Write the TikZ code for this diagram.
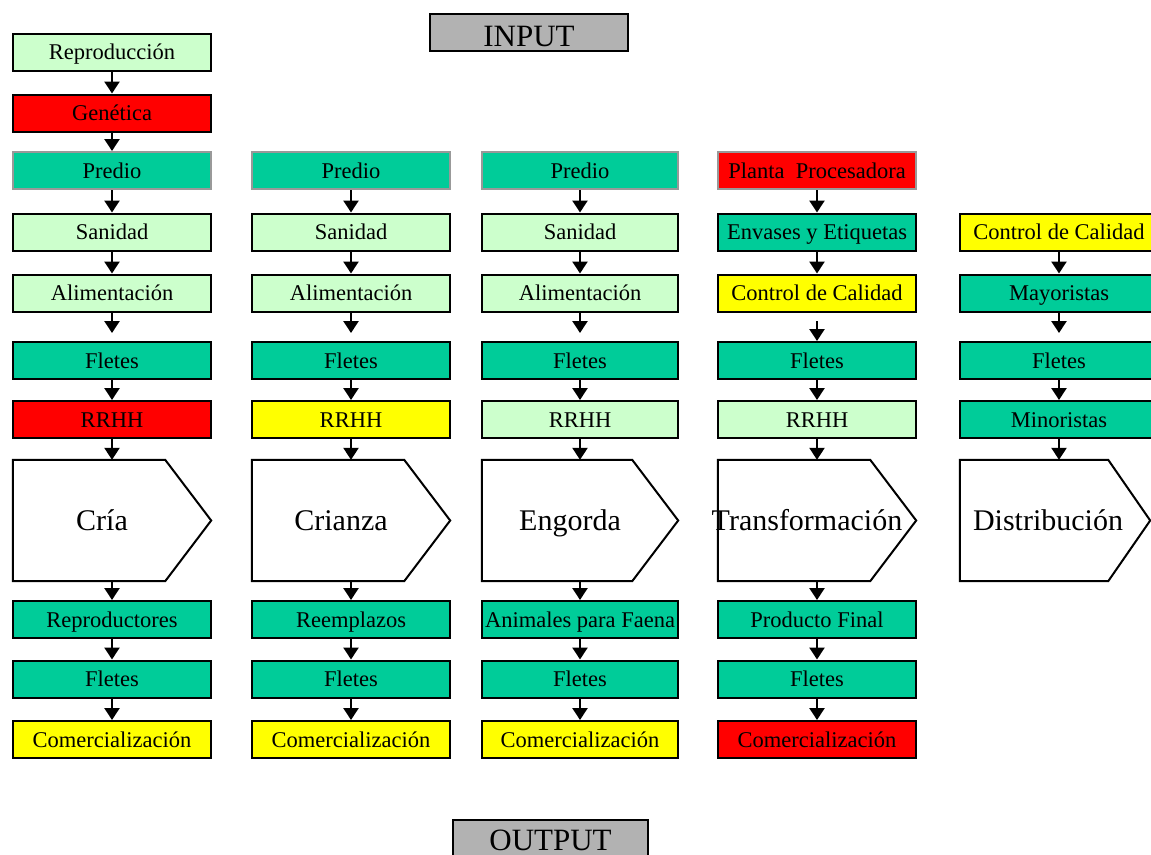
\documentclass[tikz,border=0pt]{standalone}
\usepackage{fontspec}
\setmainfont{Liberation Serif}
\usetikzlibrary{arrows.meta,calc}
\definecolor{lightg}{HTML}{CCFFCC}
\definecolor{tealg}{HTML}{00CC99}
\definecolor{redb}{HTML}{FF0000}
\definecolor{yelb}{HTML}{FFFF00}
\definecolor{grayb}{HTML}{B2B2B2}
\tikzset{
  box/.style={draw=black, line width=2pt, minimum width=198pt, minimum height=37pt, inner sep=0pt, text height=17.5pt, text depth=2.5pt, font=\fontsize{22.5}{24}\selectfont},
  lg/.style={box, fill=lightg},
  tl/.style={box, fill=tealg},
  rd/.style={box, fill=redb},
  yl/.style={box, fill=yelb},
  gb/.style={draw=black!40},
  narrow/.style={minimum width=196pt},
  io/.style={box, fill=grayb, text height=28pt, text depth=0pt, font=\fontsize{31}{33}\selectfont},
  pent/.style={minimum width=198pt, minimum height=121pt, inner sep=0pt},
  pentlabel/.style={font=\fontsize{30}{32}\selectfont, inner sep=0pt, text height=22pt, text depth=3pt},
  pentline/.style={draw=black, line width=2pt, fill=white, line join=miter},
  arr/.style={-{Triangle[width=15pt,length=12pt]}, line width=2.5pt},
}
\begin{document}
\begin{tikzpicture}[x=1pt,y=-1pt]
\clip (0,0) rectangle (1151,854);
\fill[white] (0,0) rectangle (1151,854);

% INPUT / OUTPUT
\node[io, minimum width=198pt] (input) at (529,32) {INPUT};
\node[io, minimum width=195pt, text height=24pt] (output) at (550.5,838.5) {OUTPUT};

% Column 1
\node[lg] (a1) at (112,52) {Reproducción};
\node[rd] (a2) at (112,113) {Genética};
\node[tl,gb] (a3) at (112,170.5) {Predio};
\node[lg] (a4) at (112,232) {Sanidad};
\node[lg] (a5) at (112,293) {Alimentación};
\node[tl] (a6) at (112,360.5) {Fletes};
\node[rd] (a7) at (112,419.5) {RRHH};
\node[pent] (pa) at (112,520.5) {};
\node[tl] (a8) at (112,619.5) {Reproductores};
\node[tl] (a9) at (112,679) {Fletes};
\node[yl] (a10) at (112,739.5) {Comercialización};

% Column 2
\node[tl,gb] (b3) at (351,170.5) {Predio};
\node[lg] (b4) at (351,232) {Sanidad};
\node[lg] (b5) at (351,293) {Alimentación};
\node[tl] (b6) at (351,360.5) {Fletes};
\node[yl] (b7) at (351,419.5) {RRHH};
\node[pent] (pb) at (351,520.5) {};
\node[tl] (b8) at (351,619.5) {Reemplazos};
\node[tl] (b9) at (351,679) {Fletes};
\node[yl] (b10) at (351,739.5) {Comercialización};

% Column 3
\node[tl,gb,narrow] (c3) at (580,170.5) {Predio};
\node[lg,narrow] (c4) at (580,232) {Sanidad};
\node[lg,narrow] (c5) at (580,293) {Alimentación};
\node[tl,narrow] (c6) at (580,360.5) {Fletes};
\node[lg,narrow] (c7) at (580,419.5) {RRHH};
\node[pent,minimum width=196pt] (pc) at (580,520.5) {};
\node[tl,narrow] (c8) at (580,619.5) {Animales para Faena};
\node[tl,narrow] (c9) at (580,679) {Fletes};
\node[yl,narrow] (c10) at (580,739.5) {Comercialización};

% Column 4
\node[rd,gb] (d3) at (817,170.5) {Planta\ \ Procesadora};
\node[tl] (d4) at (817,232) {Envases y Etiquetas};
\node[yl] (d5) at (817,293) {Control de Calidad};
\node[tl] (d6) at (817,360.5) {Fletes};
\node[lg] (d7) at (817,419.5) {RRHH};
\node[pent] (pd) at (817,520.5) {};
\node[tl] (d8) at (817,619.5) {Producto Final};
\node[tl] (d9) at (817,679) {Fletes};
\node[rd] (d10) at (817,739.5) {Comercialización};

% Column 5
\node[yl] (e4) at (1059,232) {Control de Calidad};
\node[tl] (e5) at (1059,293) {Mayoristas};
\node[tl] (e6) at (1059,360.5) {Fletes};
\node[tl] (e7) at (1059,419.5) {Minoristas};
\node[pent, minimum width=190pt] (pe) at (1055,520.5) {};

% Pentagon outlines
\foreach \p/\d in {pa/46,pb/46,pc/46,pd/46,pe/42}{
  \draw[pentline] (\p.north west) -- ($(\p.north east)+(-\d,0)$) -- (\p.east)
    -- ($(\p.south east)+(-\d,0)$) -- (\p.south west) -- cycle;
}
\node[pentlabel] (la) at ($(pa.center)+(-10,0)$) {Cría};
\node[pentlabel] (lb) at ($(pb.center)+(-10,0)$) {Crianza};
\node[pentlabel] (lc) at ($(pc.center)+(-10,0)$) {Engorda};
\node[pentlabel] (ld) at ($(pd.center)+(-10,0)$) {Transformación};
\node[pentlabel] (le) at ($(pe.center)+(-7,0)$) {Distribución};

% Free arrow ends
\coordinate (ga) at (112,333);
\coordinate (gb) at (351,333);
\coordinate (gc) at (580,333);
\coordinate (gd) at (817,321);
\coordinate (ge) at (1059,333);

% Arrows column 1
\draw[arr] (a1) -- (a2);
\draw[arr] (a2) -- (a3);
\draw[arr] (a3) -- (a4);
\draw[arr] (a4) -- (a5);
\draw[arr] (a5) -- (ga);
\draw[arr] (a6) -- (a7);
\draw[arr] (a7) -- (pa);
\draw[arr] (pa) -- (a8);
\draw[arr] (a8) -- (a9);
\draw[arr] (a9) -- (a10);
% column 2
\draw[arr] (b3) -- (b4);
\draw[arr] (b4) -- (b5);
\draw[arr] (b5) -- (gb);
\draw[arr] (b6) -- (b7);
\draw[arr] (b7) -- (pb);
\draw[arr] (pb) -- (b8);
\draw[arr] (b8) -- (b9);
\draw[arr] (b9) -- (b10);
% column 3
\draw[arr] (c3) -- (c4);
\draw[arr] (c4) -- (c5);
\draw[arr] (c5) -- (gc);
\draw[arr] (c6) -- (c7);
\draw[arr] (c7) -- (pc);
\draw[arr] (pc) -- (c8);
\draw[arr] (c8) -- (c9);
\draw[arr] (c9) -- (c10);
% column 4
\draw[arr] (d3) -- (d4);
\draw[arr] (d4) -- (d5);
\draw[arr] (gd) -- (d6);
\draw[arr] (d6) -- (d7);
\draw[arr] (d7) -- (pd);
\draw[arr] (pd) -- (d8);
\draw[arr] (d8) -- (d9);
\draw[arr] (d9) -- (d10);
% column 5
\draw[arr] (e4) -- (e5);
\draw[arr] (e5) -- (ge);
\draw[arr] (e6) -- (e7);
\draw[arr] (e7.south) -- (e7.south |- pe.north);
\end{tikzpicture}
\end{document}
